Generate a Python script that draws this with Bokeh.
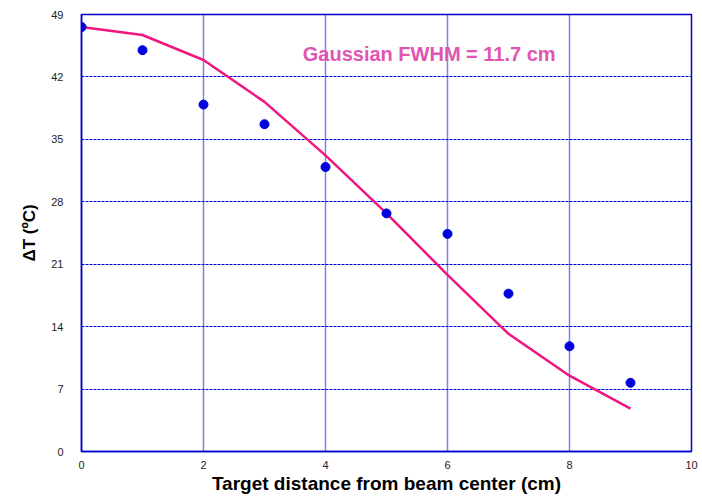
from bokeh.plotting import figure
from bokeh.models import Range1d, FixedTicker, Label, Title
from bokeh.embed import file_html
from bokeh.resources import INLINE

x_pts = [0, 1, 2, 3, 4, 5, 6, 7, 8, 9]
y_pts = [47.6, 45.0, 38.9, 36.7, 31.9, 26.7, 24.4, 17.7, 11.8, 7.7]
x_fit = [0, 1, 2, 3, 4, 5, 6, 7, 8, 9]
y_fit = [47.6, 46.7, 43.9, 39.2, 33.2, 26.7, 19.8, 13.2, 8.5, 4.8]
x_ticks = [0, 2, 4, 6, 8, 10]
y_ticks = [0, 7, 14, 21, 28, 35, 42, 49]

p = figure(width=702, height=496, output_backend="svg", toolbar_location=None,
           x_range=Range1d(0, 10), y_range=Range1d(0, 49),
           min_border_left=81, min_border_right=11, min_border_top=14, min_border_bottom=45)
p.background_fill_color = "white"
p.border_fill_color = "white"
p.outline_line_color = "#0000cc"
p.outline_line_width = 1.5

for ax in (p.xaxis[0], p.yaxis[0]):
    ax.axis_line_color = "#0000cc"
    ax.axis_line_width = 1.5
    ax.major_tick_line_color = None
    ax.minor_tick_line_color = None
    ax.major_tick_out = 0
    ax.major_tick_in = 0
    ax.major_label_text_font = "Liberation Sans"
    ax.major_label_text_font_size = "11px"
    ax.major_label_text_color = "#222222"
    ax.axis_label_text_font = "Liberation Sans"
    ax.axis_label_text_font_style = "bold"
    ax.axis_label_text_font_size = "19px"
    ax.axis_label_text_color = "black"

p.xaxis.ticker = FixedTicker(ticks=x_ticks)
p.yaxis.ticker = FixedTicker(ticks=y_ticks)
p.xaxis.major_label_standoff = 9
p.yaxis.major_label_standoff = 18
p.xaxis.axis_label = "Target distance from beam center (cm)"
p.xaxis.axis_label_standoff = 1

p.xgrid.ticker = FixedTicker(ticks=x_ticks)
p.ygrid.ticker = FixedTicker(ticks=y_ticks)
p.xgrid.grid_line_color = "#0000dd"
p.xgrid.grid_line_alpha = 1.0
p.xgrid.grid_line_dash = "1 1"
p.xgrid.grid_line_width = 1.5
p.ygrid.grid_line_color = "#0000dd"
p.ygrid.grid_line_alpha = 1.0
p.ygrid.grid_line_dash = "3 1"
p.ygrid.grid_line_width = 1.2

p.line(x_fit, y_fit, line_color="#f0157f", line_width=2.5)
p.scatter(x_pts, y_pts, size=9, fill_color="#0000dd", line_color="#0000dd")

p.add_layout(Label(x=5.7, y=44.6, text="Gaussian FWHM = 11.7 cm", text_align="center",
                   text_baseline="middle", text_font="Liberation Sans", text_font_style="bold",
                   text_font_size="20px", text_color="#e055b0"))

p.add_layout(Title(text="ΔT (ºC)", align="center", text_font="Liberation Sans",
                   text_font_style="bold", text_font_size="17px", text_color="black",
                   standoff=20), "left")

open("out.html", "w").write(file_html(p, INLINE))
